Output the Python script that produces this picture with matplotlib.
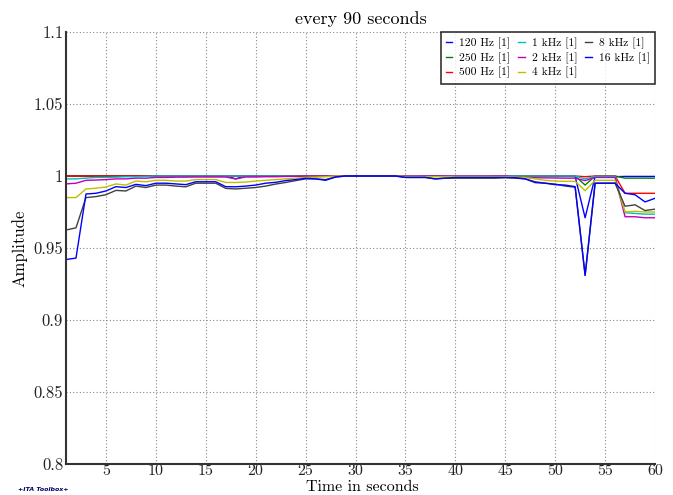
import matplotlib
matplotlib.use("Agg")
import matplotlib.pyplot as plt
from matplotlib.ticker import FuncFormatter

plt.rcParams['font.family'] = ['cmr10', 'DejaVu Serif']
plt.rcParams['mathtext.fontset'] = 'cm'
plt.rcParams['axes.formatter.use_mathtext'] = True

time_s = list(range(1, 61))

labels = ["120 Hz [1]", "250 Hz [1]", "500 Hz [1]", "1 kHz [1]",
          "2 kHz [1]", "4 kHz [1]", "8 kHz [1]", "16 kHz [1]"]
colors = ["#0000ff", "#008000", "#ff0000", "#00bfbf",
          "#bf00bf", "#bfbf00", "#404040", "#0000ff"]

f120 = [1.0]*17 + [0.998] + [1.0]*27 + [0.9997]*7 + [0.971] + [0.9995]*3 + [0.9997]*4
f250 = [1.0]*52 + [0.9937] + [1.0]*3 + [0.9985]*4
f500 = [1.0]*52 + [0.9995] + [1.0]*3 + [0.988]*4
f1k = ([0.998, 0.998, 0.9985, 0.999, 0.999, 0.9992, 0.9995, 0.9995, 0.9997]
       + [1.0]*43 + [0.998] + [0.9998]*3 + [0.9745, 0.974, 0.9735, 0.9735])
f2k = ([0.9945, 0.995, 0.997, 0.9972, 0.9975, 0.998, 0.998, 0.9985, 0.9985, 0.999,
        0.999, 0.9992, 0.9992, 0.9993, 0.9993, 0.9993, 0.9993, 0.998, 0.9993, 0.9993,
        0.9995, 0.9995, 0.9997, 0.9998] + [1.0]*21
       + [0.9992, 0.999, 0.9988, 0.9987, 0.9986, 0.9985, 0.9985, 0.9968, 0.999, 0.999, 0.999,
          0.9717, 0.9717, 0.971, 0.971])
f4k = [0.985, 0.985, 0.991, 0.9915, 0.9924, 0.9945, 0.9937, 0.9965, 0.996, 0.997,
       0.997, 0.9965, 0.9965, 0.9975, 0.9975, 0.9975, 0.9955, 0.9955, 0.9958, 0.9965,
       0.997, 0.9975, 0.998, 0.9985, 0.999, 0.9992, 0.9995, 1.0, 1.0, 1.0,
       1.0, 1.0, 1.0, 1.0, 0.9997, 0.9997, 0.9996, 0.9995, 0.9996, 0.9997,
       0.9997, 0.9997, 0.9997, 0.9996, 0.9996, 0.9992, 0.999, 0.998, 0.997, 0.9965,
       0.9963, 0.9963, 0.9898, 0.997, 0.997, 0.997, 0.975, 0.9755, 0.975, 0.975]
f8k = [0.9625, 0.964, 0.985, 0.9857, 0.987, 0.990, 0.9896, 0.993, 0.992, 0.9937,
       0.9937, 0.993, 0.9925, 0.995, 0.995, 0.995, 0.9914, 0.991, 0.9915, 0.992,
       0.993, 0.9944, 0.9955, 0.9968, 0.998, 0.998, 0.9975, 0.9993, 1.0, 1.0,
       1.0, 1.0, 1.0, 1.0, 0.999, 0.999, 0.999, 0.998, 0.9985, 0.9985,
       0.9985, 0.9985, 0.9985, 0.9985, 0.9988, 0.9985, 0.998, 0.996, 0.995, 0.9944,
       0.993, 0.9922, 0.931, 0.995, 0.995, 0.995, 0.979, 0.980, 0.976, 0.977]
f16k = [0.942, 0.943, 0.9875, 0.988, 0.9896, 0.9926, 0.992, 0.9942, 0.9933, 0.995,
        0.995, 0.9945, 0.994, 0.996, 0.996, 0.996, 0.9926, 0.9925, 0.993, 0.9937,
        0.995, 0.9956, 0.9968, 0.9975, 0.9984, 0.998, 0.997, 0.9993, 1.0, 1.0,
        1.0, 1.0, 1.0, 1.0, 0.999, 0.999, 0.999, 0.998, 0.9985, 0.999,
        0.999, 0.999, 0.999, 0.999, 0.999, 0.9988, 0.998, 0.9954, 0.995, 0.994,
        0.9937, 0.9926, 0.931, 0.995, 0.995, 0.995, 0.988, 0.987, 0.982, 0.9845]

series = [f120, f250, f500, f1k, f2k, f4k, f8k, f16k]

fig = plt.figure(figsize=(6.73, 4.95), dpi=100)
ax = fig.add_axes([66/673, 1 - 464/495, (655-66)/673, (464-32)/495])

for vals, lab, col in zip(series, labels, colors):
    ax.plot(time_s, vals, color=col, lw=1.0, label=lab)

ax.set_xlim(1, 60)
ax.set_ylim(0.8, 1.1)
ax.set_xticks([5, 10, 15, 20, 25, 30, 35, 40, 45, 50, 55, 60])
ax.set_yticks([0.8, 0.85, 0.9, 0.95, 1.0, 1.05, 1.1])
ax.yaxis.set_major_formatter(FuncFormatter(lambda v, p: "%g" % round(v, 3)))
ax.xaxis.set_major_formatter(FuncFormatter(lambda v, p: "%g" % v))
ax.grid(True, linestyle=(0, (1, 2)), color="#888888", lw=0.8)
for s in ["top", "right"]:
    ax.spines[s].set_visible(False)
for s in ["left", "bottom"]:
    ax.spines[s].set_linewidth(1.5)
    ax.spines[s].set_color("#333333")
ax.tick_params(direction="in", length=0, labelsize=12, colors="#222222")
ax.tick_params(axis="x", pad=0, labelsize=11.5)
ax.tick_params(axis="y", pad=2)

ax.set_title("every 90 seconds", fontsize=13, pad=6)
ax.set_xlabel("Time in seconds", fontsize=11.5, va="bottom")
ax.xaxis.set_label_coords(362.0 / 673, 1.0 / 495, transform=fig.transFigure)
ax.set_ylabel("Amplitude", fontsize=12, labelpad=4)

leg = ax.legend(loc="upper right", ncol=3, fontsize=8.3, borderaxespad=0,
                frameon=True, fancybox=False, handlelength=0.55, handletextpad=0.6,
                columnspacing=0.7, labelspacing=0.3, borderpad=0.45)
leg.get_frame().set_edgecolor("black")
leg.get_frame().set_linewidth(1.2)

fig.text(18/673, 1 - 491/495, "+ITA Toolbox+", fontsize=4.5, style="italic",
         fontweight="bold", color="#000066", family="DejaVu Sans")

fig.savefig("out.png", dpi=100)
